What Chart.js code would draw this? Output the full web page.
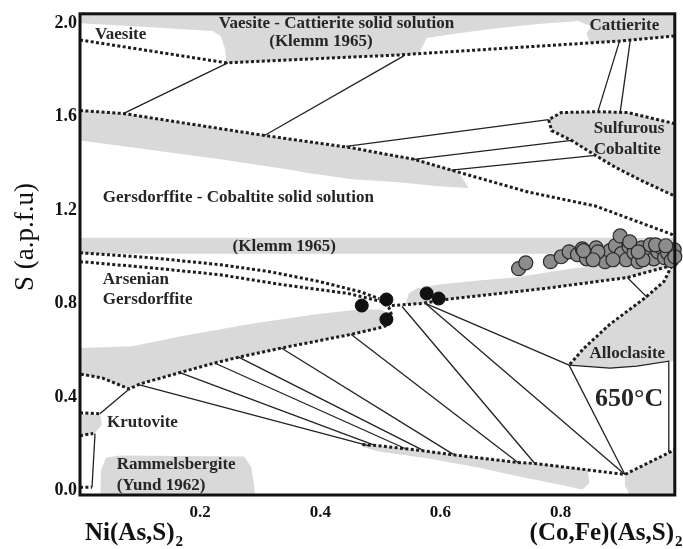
<!DOCTYPE html>
<html>
<head>
<meta charset="utf-8">
<script src="https://cdn.jsdelivr.net/npm/chart.js@4.4.1/dist/chart.umd.min.js"></script>
<style>
  html, body { margin: 0; padding: 0; background: #fff; }
  canvas { display: block; }
</style>
</head>
<body>
<canvas id="diagram" width="683" height="549"></canvas>
<script>
// tick labels
const xTicks = [0.2, 0.4, 0.6, 0.8];
const yTicks = [0.0, 0.4, 0.8, 1.2, 1.6, 2.0];

// analysed grains
const grayGrains = [
  [0.730,0.949],[0.742,0.974],[0.783,0.979],[0.801,1.000],[0.814,1.021],[0.828,1.009],
  [0.836,1.034],[0.843,0.991],[0.849,1.017],[0.859,1.038],[0.867,1.004],[0.874,0.979],
  [0.882,1.026],[0.891,1.047],[0.899,1.089],[0.901,1.013],[0.909,0.987],[0.914,1.043],
  [0.922,1.017],[0.929,0.979],[0.935,1.038],[0.942,1.009],[0.949,1.051],[0.955,0.991],
  [0.962,1.021],[0.968,1.038],[0.973,0.996],[0.978,1.017],[0.984,0.983],[0.989,1.030],
  [0.990,1.000],[0.862,1.021],[0.887,0.987],[0.915,1.064],[0.937,0.987],[0.958,1.051],
  [0.975,1.047],[0.854,0.987],[0.838,1.026],[0.929,1.021]
];
const blackGrains = [[0.469,0.791],[0.510,0.817],[0.510,0.732],[0.577,0.843],[0.597,0.821]];

// grey solid-solution fields
const vaesiteField = [[0,2.04],[0.99,2.04],[0.99,1.945],[0.896,1.923],[0.849,1.915],[0.843,1.957],
  [0.851,1.987],[0.829,2.009],[0.763,1.996],[0.697,1.979],[0.630,1.957],[0.577,1.936],[0.564,1.869],
  [0.531,1.864],[0.244,1.830],[0.241,1.894],[0.234,1.945],[0.220,1.966],[0.089,1.987],[0,2.000],[0,2.04]];
const gersdorffiteField = [[0,1.626],[0.072,1.613],[0.307,1.519],[0.448,1.468],[0.556,1.417],[0.630,1.362],
  [0.647,1.294],[0.597,1.302],[0.531,1.319],[0.453,1.332],[0.382,1.357],[0.344,1.374],[0.233,1.417],
  [0.088,1.468],[0,1.498],[0,1.626]];
const sulfurousField = [[0.99,1.570],[0.983,1.574],[0.912,1.617],[0.862,1.621],[0.801,1.617],[0.780,1.587],
  [0.785,1.540],[0.818,1.498],[0.858,1.434],[0.891,1.383],[0.940,1.319],[0.983,1.268],[0.99,1.260],[0.99,1.570]];
const klemmField = [[0,1.081],[0.99,1.081],[0.99,1.013],[0,1.013],[0,1.081]];
const arsenianField = [[0,0.609],[0.087,0.617],[0.169,0.660],[0.280,0.711],[0.390,0.753],[0.463,0.774],
  [0.501,0.774],[0.514,0.757],[0.511,0.706],[0.496,0.694],[0.452,0.668],[0.335,0.609],[0.264,0.570],
  [0.224,0.545],[0.169,0.506],[0.099,0.455],[0.082,0.434],[0.037,0.481],[0,0.498],[0,0.609]];
const cobaltiteField = [[0.542,0.796],[0.547,0.843],[0.560,0.864],[0.597,0.881],[0.663,0.898],[0.724,0.911],
  [0.816,0.949],[0.894,0.970],[0.99,0.987],[0.99,0.962],[0.952,0.940],[0.911,0.911],[0.773,0.864],
  [0.608,0.817],[0.569,0.800],[0.542,0.796]];
const alloclasiteField = [[0.99,0.962],[0.985,0.962],[0.972,0.894],[0.939,0.821],[0.882,0.711],[0.839,0.609],
  [0.814,0.536],[0.882,0.523],[0.927,0.532],[0.980,0.553],[0.99,0.553],[0.99,0.962]];
const lowerField = [[0.470,0.196],[0.497,0.191],[0.569,0.170],[0.618,0.153],[0.729,0.119],[0.757,0.115],
  [0.845,0.089],[0.848,0.030],[0.836,0.004],[0.795,0.026],[0.729,0.060],[0.663,0.098],[0.580,0.136],
  [0.497,0.166],[0.470,0.187],[0.470,0.196]];
const cornerField = [[0.907,0.068],[0.977,0.157],[0.99,0.174],[0.99,-0.02],[0.915,-0.02],[0.907,0.021],[0.907,0.068]];
const rammelsbergiteField = [[0.034,-0.02],[0.035,0.085],[0.043,0.140],[0.066,0.149],[0.273,0.145],
  [0.285,0.100],[0.292,-0.02],[0.034,-0.02]];
const krutoviteField = [[0,0.327],[0.034,0.323],[0.036,0.280],[0.025,0.245],[0,0.234],[0,0.327]];

// dotted phase boundaries
const vaesiteLine = [[0,1.928],[0.244,1.830],[0.531,1.864],[0.896,1.923],[0.99,1.945]];
const gersdorffiteLine = [[0,1.626],[0.072,1.613],[0.307,1.519],[0.448,1.468],[0.556,1.417],[0.630,1.362],
  [0.746,1.277],[0.858,1.217],[0.983,1.098],[0.99,1.089]];
const sulfurousLine = [[0.99,1.570],[0.983,1.574],[0.912,1.617],[0.862,1.621],[0.801,1.617],[0.780,1.587],
  [0.785,1.540],[0.818,1.498],[0.858,1.434],[0.891,1.383],[0.940,1.319],[0.983,1.268],[0.99,1.260]];
const klemmUpperLine = [[0,1.017],[0.117,0.996],[0.233,0.966],[0.316,0.936],[0.398,0.894],[0.465,0.851],[0.498,0.821]];
const klemmLowerLine = [[0,0.979],[0.117,0.953],[0.233,0.923],[0.335,0.881],[0.446,0.843],[0.501,0.809],
  [0.514,0.783],[0.519,0.749],[0.518,0.723],[0.511,0.706],[0.496,0.694],[0.452,0.668],[0.335,0.609],
  [0.264,0.570],[0.224,0.545],[0.169,0.506],[0.099,0.455],[0.082,0.434],[0.037,0.481],[0,0.498]];
const cobaltiteLine = [[0.519,0.791],[0.569,0.800],[0.608,0.817],[0.773,0.864],[0.911,0.911],[0.952,0.940],[0.985,0.962],[0.99,0.966]];
const alloclasiteLine = [[0.985,0.962],[0.972,0.894],[0.939,0.821],[0.882,0.711],[0.839,0.609],[0.814,0.536]];
const bottomLine = [[0.470,0.196],[0.497,0.191],[0.569,0.170],[0.618,0.153],[0.729,0.119],[0.757,0.115],
  [0.907,0.068],[0.977,0.157],[0.99,0.174]];
const krutoviteTop = [[0,0.332],[0.033,0.328]];
const krutoviteBottom = [[0,0.234],[0.022,0.243]];
const rammelsbergiteEnd = [[0,0.013],[0.020,0.013]];

// tie lines
const tieLines = [
  [[0.072,1.613],[0.246,1.830]],
  [[0.307,1.519],[0.539,1.860]],
  [[0.898,1.923],[0.862,1.621]],
  [[0.916,1.928],[0.899,1.617]],
  [[0.443,1.472],[0.780,1.587]],
  [[0.556,1.417],[0.818,1.498]],
  [[0.618,1.371],[0.858,1.434]],
  [[0.033,0.328],[0.082,0.434]],
  [[0.025,0.243],[0.020,0.013]],
  [[0.099,0.451],[0.480,0.191]],
  [[0.164,0.506],[0.492,0.191]],
  [[0.224,0.545],[0.542,0.178]],
  [[0.264,0.570],[0.572,0.170]],
  [[0.335,0.609],[0.622,0.153]],
  [[0.451,0.668],[0.729,0.119]],
  [[0.536,0.787],[0.757,0.115]],
  [[0.575,0.800],[0.907,0.068]],
  [[0.575,0.800],[0.814,0.536]],
  [[0.814,0.536],[0.907,0.068]],
  [[0.911,0.911],[0.944,0.826]],
  [[0.814,0.536],[0.882,0.523],[0.927,0.532],[0.980,0.553],[0.980,0.162]]
];

// field names
const fieldLabels = [
  {text: 'Vaesite', x: 0.025, y: 1.949, align: 'left', size: 17},
  {text: 'Vaesite - Cattierite solid solution', x: 0.427, y: 2.0, align: 'center', size: 17},
  {text: '(Klemm 1965)', x: 0.401, y: 1.919, align: 'center', size: 17},
  {text: 'Cattierite', x: 0.906, y: 1.991, align: 'center', size: 17},
  {text: 'Sulfurous', x: 0.914, y: 1.549, align: 'center', size: 17},
  {text: 'Cobaltite', x: 0.911, y: 1.460, align: 'center', size: 17},
  {text: 'Gersdorffite - Cobaltite solid solution', x: 0.038, y: 1.255, align: 'left', size: 17},
  {text: '(Klemm 1965)', x: 0.340, y: 1.043, align: 'center', size: 17},
  {text: 'Arsenian', x: 0.038, y: 0.902, align: 'left', size: 17},
  {text: 'Gersdorffite', x: 0.038, y: 0.817, align: 'left', size: 17},
  {text: 'Alloclasite', x: 0.911, y: 0.587, align: 'center', size: 17},
  {text: '650°C', x: 0.914, y: 0.391, align: 'center', size: 26},
  {text: 'Krutovite', x: 0.045, y: 0.289, align: 'left', size: 17},
  {text: 'Rammelsbergite', x: 0.061, y: 0.111, align: 'left', size: 17},
  {text: '(Yund 1962)', x: 0.061, y: 0.021, align: 'left', size: 17}
];

function pts(a) {
    return a.map(function(p) { return {x: p[0], y: p[1]}; });
}

var datasets = [];
[vaesiteField, gersdorffiteField, sulfurousField, klemmField, arsenianField, cobaltiteField,
 alloclasiteField, lowerField, cornerField, rammelsbergiteField, krutoviteField].forEach(function(f) {
    datasets.push({
        data: pts(f), showLine: true, fill: 'shape',
        backgroundColor: '#d9d9d9', borderColor: 'rgba(0,0,0,0)', borderWidth: 0,
        pointRadius: 0, order: 5
    });
});
[vaesiteLine, gersdorffiteLine, sulfurousLine, klemmUpperLine, klemmLowerLine, cobaltiteLine,
 alloclasiteLine, bottomLine, krutoviteTop, krutoviteBottom, rammelsbergiteEnd].forEach(function(l) {
    datasets.push({
        data: pts(l), showLine: true, fill: false,
        borderColor: '#1e1e1e', borderWidth: 3, borderDash: [3, 2.4], borderCapStyle: 'butt',
        pointRadius: 0, order: 4
    });
});
tieLines.forEach(function(l) {
    datasets.push({
        data: pts(l), showLine: true, fill: false,
        borderColor: '#222', borderWidth: 1.3,
        pointRadius: 0, order: 3
    });
});
datasets.push({
    data: pts(grayGrains), showLine: false, clip: false,
    pointRadius: 7, pointBackgroundColor: '#8c8c8c', pointBorderColor: '#2a2a2a', pointBorderWidth: 1.2,
    order: 2
});
datasets.push({
    data: pts(blackGrains), showLine: false, clip: false,
    pointRadius: 6.5, pointBackgroundColor: '#111', pointBorderColor: '#111', pointBorderWidth: 1,
    order: 1
});

const decor = {
    id: 'decor',
    afterDatasetsDraw: function(chart) {
        const ctx = chart.ctx, a = chart.chartArea, sx = chart.scales.x, sy = chart.scales.y;
        ctx.save();
        ctx.lineWidth = 3;
        ctx.strokeStyle = '#111';
        ctx.strokeRect(a.left, a.top, a.right - a.left, a.bottom - a.top);

        ctx.fillStyle = '#262626';
        ctx.textBaseline = 'middle';
        fieldLabels.forEach(function(l) {
            ctx.font = 'bold ' + l.size + 'px "Liberation Serif"';
            ctx.textAlign = l.align;
            ctx.fillText(l.text, sx.getPixelForValue(l.x), sy.getPixelForValue(l.y));
        });

        // axis end members
        ctx.fillStyle = '#111';
        ctx.textBaseline = 'alphabetic';
        ctx.textAlign = 'left';
        ctx.font = 'bold 25px "Liberation Serif"';
        ctx.fillText('Ni(As,S)', 85, 540);
        var w1 = ctx.measureText('Ni(As,S)').width;
        ctx.font = 'bold 15px "Liberation Serif"';
        ctx.fillText('2', 85 + w1 + 1, 546);
        ctx.font = 'bold 25px "Liberation Serif"';
        var w2 = ctx.measureText('(Co,Fe)(As,S)').width;
        var x2 = 683 - 9 - w2;
        ctx.fillText('(Co,Fe)(As,S)', x2, 540);
        ctx.font = 'bold 15px "Liberation Serif"';
        ctx.fillText('2', x2 + w2 + 1, 546);

        // y title
        ctx.translate(26, 237);
        ctx.rotate(-Math.PI / 2);
        ctx.textAlign = 'center';
        ctx.textBaseline = 'middle';
        ctx.font = '27px "Liberation Serif"';
        ctx.fillText('S (a.p.f.u)', 0, 0);
        ctx.restore();
    }
};

new Chart(document.getElementById('diagram'), {
    type: 'scatter',
    data: { datasets: datasets },
    options: {
        responsive: false,
        devicePixelRatio: 1,
        animation: false,
        events: [],
        layout: { padding: { left: 0, right: 5, top: 10, bottom: 0 } },
        plugins: { legend: { display: false }, tooltip: { enabled: false } },
        scales: {
            x: {
                type: 'linear', min: 0, max: 0.99,
                grid: { display: false, drawTicks: false },
                border: { display: false },
                afterBuildTicks: function(scale) {
                    scale.ticks = xTicks.map(function(v) { return {value: v}; });
                },
                afterFit: function(scale) { scale.height = 54; },
                ticks: {
                    padding: 7, color: '#111',
                    font: { family: '"Liberation Serif"', size: 17, weight: 'bold' },
                    callback: function(value) { return value.toFixed(1); }
                }
            },
            y: {
                type: 'linear', min: -0.02, max: 2.04,
                grid: { display: false, drawTicks: false },
                border: { display: false },
                afterBuildTicks: function(scale) {
                    scale.ticks = yTicks.map(function(v) { return {value: v}; });
                },
                afterFit: function(scale) { scale.width = 80; },
                ticks: {
                    padding: 3, color: '#111',
                    font: { family: '"Liberation Serif"', size: 18, weight: 'bold' },
                    callback: function(value) { return value.toFixed(1); }
                }
            }
        }
    },
    plugins: [decor]
});
</script>
</body>
</html>
